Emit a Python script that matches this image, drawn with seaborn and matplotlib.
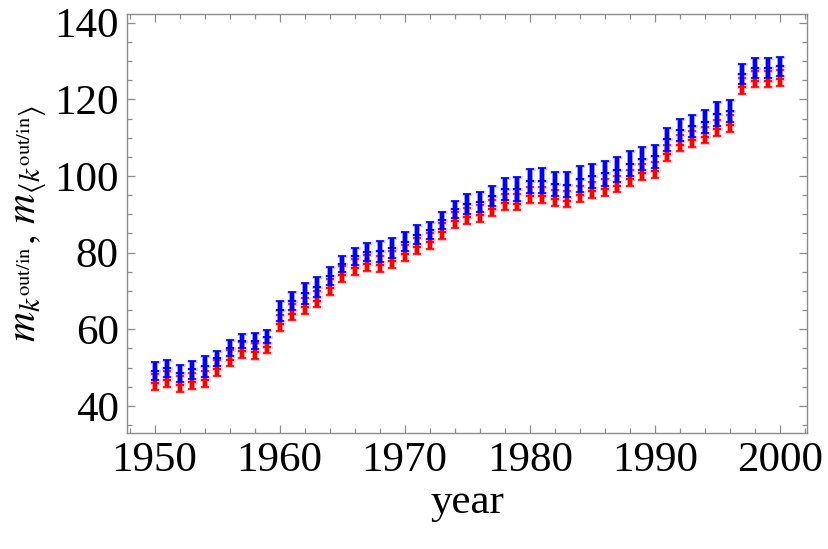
import numpy as np
import pandas as pd
import seaborn as sns
import matplotlib
matplotlib.use("Agg")
import matplotlib.pyplot as plt
from matplotlib.ticker import MultipleLocator

# ---- data ----
years = list(range(1950, 2001))

red_low = [44.2, 45.0, 43.6, 44.5, 45.0, 47.7, 50.3, 52.4, 52.2, 53.7,
           59.6, 62.3, 64.0, 65.7, 69.0, 72.3, 74.2, 75.2, 75.0, 76.1,
           77.9, 79.7, 80.9, 83.5, 86.4, 87.4, 88.1, 89.6, 91.1, 91.0,
           92.9, 93.0, 92.2, 91.8, 93.3, 94.2, 94.9, 95.7, 97.3, 98.9,
           99.5, 104.0, 106.4, 107.5, 108.5, 110.4, 111.6, 121.5, 123.1, 123.1,
           123.5]
red_mid = [46.0, 46.8, 45.4, 46.3, 46.8, 49.5, 52.1, 54.2, 54.0, 55.5,
           61.4, 64.1, 65.8, 67.5, 70.8, 74.1, 76.0, 77.0, 76.8, 77.9,
           79.7, 81.5, 82.7, 85.3, 88.2, 89.2, 89.9, 91.4, 92.9, 92.8,
           94.7, 94.8, 94.0, 93.6, 95.1, 96.0, 96.7, 97.5, 99.1, 100.7,
           101.3, 105.8, 108.2, 109.3, 110.3, 112.2, 113.4, 123.3, 124.9, 124.9,
           125.3]
red_high = [48.4, 49.2, 47.8, 48.7, 49.2, 51.9, 54.5, 56.6, 56.4, 57.9,
            63.8, 66.5, 68.2, 69.9, 73.2, 76.5, 78.4, 79.4, 79.2, 80.3,
            82.1, 83.9, 85.1, 87.7, 90.6, 91.6, 92.3, 93.8, 95.3, 95.2,
            97.1, 97.2, 96.4, 96.0, 97.5, 98.4, 99.1, 99.9, 101.5, 103.1,
            103.7, 108.2, 110.6, 111.7, 112.7, 114.6, 115.8, 125.7, 127.3, 127.3,
            127.7]
blue_low = [46.8, 47.6, 46.2, 47.1, 47.6, 50.3, 52.9, 55.0, 54.8, 56.3,
            62.2, 64.9, 66.6, 68.3, 71.6, 74.9, 76.8, 77.8, 77.6, 78.7,
            80.5, 82.3, 83.5, 86.1, 89.0, 90.0, 90.7, 92.2, 93.7, 93.6,
            95.5, 95.6, 94.8, 94.4, 95.9, 96.8, 97.5, 98.3, 99.9, 101.5,
            102.1, 106.6, 109.0, 110.1, 111.1, 113.0, 114.2, 124.1, 125.7, 125.7,
            126.1]
blue_mid = [49.1, 49.8, 48.5, 49.5, 50.3, 52.4, 55.1, 56.9, 57.0, 58.1,
            64.9, 67.4, 69.4, 71.0, 73.9, 77.1, 79.1, 80.2, 80.4, 81.3,
            82.9, 84.7, 85.8, 88.4, 91.3, 92.7, 93.3, 94.9, 96.6, 96.7,
            98.6, 98.8, 98.0, 97.7, 99.3, 100.0, 100.8, 101.6, 103.2, 104.5,
            105.1, 109.6, 112.0, 113.1, 114.2, 116.1, 117.0, 126.7, 128.2, 128.2,
            128.6]
blue_high = [51.4, 52.0, 50.8, 51.8, 53.0, 54.4, 57.2, 58.8, 59.1, 59.8,
             67.5, 69.8, 72.2, 73.6, 76.2, 79.2, 81.3, 82.6, 83.1, 83.9,
             85.3, 87.1, 88.1, 90.6, 93.5, 95.3, 95.9, 97.5, 99.4, 99.8,
             101.7, 102.0, 101.1, 101.0, 102.7, 103.1, 104.0, 104.9, 106.5, 107.5,
             108.0, 112.6, 115.0, 116.0, 117.2, 119.2, 119.8, 129.2, 130.7, 130.7,
             131.1]

x_ticks = [1950, 1960, 1970, 1980, 1990, 2000]
y_ticks = [40, 60, 80, 100, 120, 140]

# ---- style ----
sns.set_theme(style="ticks")
plt.rcParams['font.family'] = ['Liberation Serif', 'DejaVu Serif']
plt.rcParams['mathtext.fontset'] = 'stix'

fig = plt.figure(figsize=(8.29, 5.49), dpi=100)
ax = fig.add_axes([0.1532, 0.2104, 0.8203, 0.7636])

segments = pd.DataFrame({
    "year": years * 4,
    "lo": red_low + red_mid + blue_low + blue_mid,
    "hi": red_mid + red_high + blue_mid + blue_high,
    "color": ["red"] * (2 * len(years)) + ["blue"] * (2 * len(years)),
})
segments["center"] = (segments["lo"] + segments["hi"]) / 2
segments["err"] = (segments["hi"] - segments["lo"]) / 2

cols = {"red": "#ff0000", "blue": "#0000ff"}
halo = {"red": "#ffc4c4", "blue": "#c4c4ff"}
for c in ["red", "blue"]:
    d = segments[segments["color"] == c]
    ax.errorbar(d["year"], d["center"], yerr=d["err"], fmt="none",
                ecolor=halo[c], elinewidth=4.2, capsize=3.6, capthick=2.2, zorder=2)
    ax.errorbar(d["year"], d["center"], yerr=d["err"], fmt="none",
                ecolor=cols[c], elinewidth=3.2, capsize=3.0, capthick=1.2, zorder=3)

ax.set_xlim(1947.8, 2002.16)
ax.set_ylim(32.8, 142.2)
ax.set_xticks(x_ticks)
ax.set_yticks(y_ticks)
ax.xaxis.set_minor_locator(MultipleLocator(2))
ax.yaxis.set_minor_locator(MultipleLocator(5))

gray = "#8c8c8c"
for s in ax.spines.values():
    s.set_color(gray)
    s.set_linewidth(1.0)
ax.tick_params(which="both", direction="in", top=True, right=True, color=gray,
               labelsize=31, labelcolor="black", width=0.9)
ax.tick_params(which="major", length=6, pad=6)
ax.tick_params(which="minor", length=3.5)

ax.set_xlabel("year", fontsize=31, labelpad=2, color="black")
ax.set_ylabel(r"$m_{k^{\mathrm{out/in}}},\, m_{\langle k^{\mathrm{out/in}}\rangle}$",
              fontsize=30, labelpad=4, color="black")

fig.savefig("out.png", dpi=100)
